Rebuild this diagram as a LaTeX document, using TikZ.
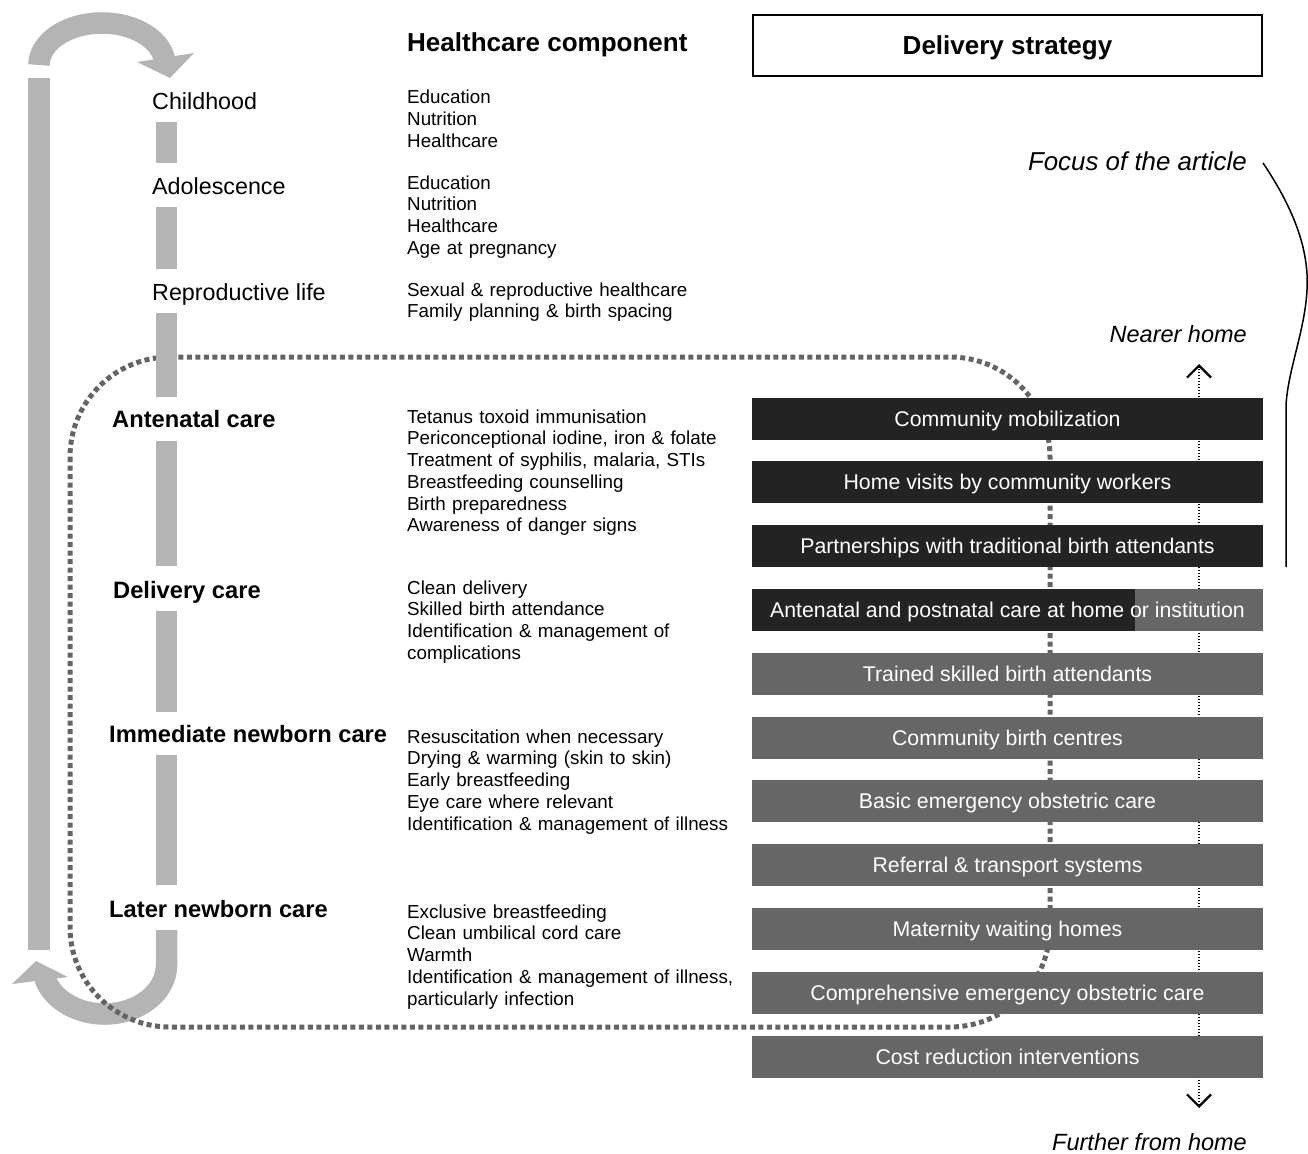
\documentclass[tikz,border=0pt]{standalone}
\usepackage{fontspec}
\setmainfont{Liberation Sans}
\usetikzlibrary{arrows.meta}
\definecolor{stagegray}{RGB}{180,180,180}
\definecolor{loopgray}{RGB}{100,100,100}
\definecolor{darkbar}{RGB}{35,35,35}
\definecolor{midbar}{RGB}{102,102,102}

\begin{document}
\begin{tikzpicture}[x=1pt,y=-1pt,
    stagebar/.style={draw=stagegray,line width=21.5pt},
    stagelabel/.style={anchor=base west,inner sep=0,font=\stagefontsize},
    stagehead/.style={anchor=base west,inner sep=0,font=\bfseries\fontsize{23.7}{27}\selectfont},
    itemlist/.style={anchor=base west,inner sep=0,text width=340pt,align=left,font=\listfontsize},
    note/.style={anchor=base east,inner sep=0,font=\itshape\notefontsize},
    bar/.style={minimum width=511pt,minimum height=42pt,inner sep=0,text=white,font=\barfontsize,text height=15pt,text depth=0pt},
    darkfill/.style={fill=darkbar},
    midfill/.style={fill=midbar},
    splitfill/.style={fill=midbar,path picture={\fill[darkbar] (path picture bounding box.north west) rectangle ([xshift=-128pt]path picture bounding box.south east);}}]
    \pgfmathsetmacro{\barleft}{752}
    \pgfmathsetmacro{\barright}{1263}
    \pgfmathsetmacro{\firstbar}{418.5}
    \pgfmathsetmacro{\barstep}{63.8}
    \pgfmathsetmacro{\listx}{407}
    \pgfmathsetmacro{\stagex}{166.5}
    \providecommand{\headfontsize}{\fontsize{26}{30}\selectfont}
    \providecommand{\stagefontsize}{\fontsize{23.3}{27}\selectfont}
    \providecommand{\listfontsize}{\fontsize{18.8}{21.75}\selectfont}
    \providecommand{\barfontsize}{\fontsize{21.3}{24}\selectfont}
    \providecommand{\notefontsize}{\fontsize{23.5}{27}\selectfont}
    \useasboundingbox (0,0) rectangle (1308,1153);
    \draw[stagebar] (39,65) arc[start angle=180,end angle=360,x radius=63,y radius=42];
    \fill[stagegray] (137,62) -- (194,53) -- (170,78) -- cycle;
    \draw[stagebar] (39,78) -- (39,950);
    \draw[stagebar] (\stagex,930) -- (\stagex,965) arc[start angle=0,end angle=165,x radius=62,y radius=49];
    \fill[stagegray] (12,984) -- (68,977) -- (36,961) -- cycle;
    \draw[loopgray,line width=5pt,dash pattern=on 5pt off 3.5pt,rounded corners=100pt] (70,357) rectangle (1050,1027);
    \coordinate (hometop) at (1199,364);
    \coordinate (homebottom) at (1199,1108);
    \draw[line width=1.6pt,dash pattern=on 1.5pt off 1.5pt,{Straight Barb[length=12pt,width=24pt,line width=2.2pt]}-{Straight Barb[length=12pt,width=24pt,line width=2.2pt]}] (homebottom) -- (hometop);
    \foreach \a/\b in {122/163,207/269,313/397,441/566,611/712,755/885}
        \draw[stagebar] (\stagex,\a) -- (\stagex,\b);
    \node[anchor=base west,inner sep=0,font=\bfseries\headfontsize] (component) at (\listx,52) {Healthcare component};
    \node[draw,line width=1.8pt,minimum width=509pt,minimum height=61pt,inner sep=0,font=\bfseries\headfontsize,text height=18.6pt,text depth=0pt] (strategy) at (1007.5,45.5) {Delivery strategy};
    \node[stagelabel] (childhood) at (152,109.5) {Childhood};
    \node[stagelabel] (adolescence) at (152,194.5) {Adolescence};
    \node[stagelabel] (reproductive) at (152,300.5) {Reproductive life};
    \node[stagehead] (antenatal) at (112,427.5) {Antenatal care};
    \node[stagehead] (delivery) at (113,598.5) {Delivery care};
    \node[stagehead] (immediate) at (109,742.5) {Immediate newborn care};
    \node[stagehead] (later) at (109,917.5) {Later newborn care};
    \node[itemlist] (childlist) at (\listx,104) {Education\\Nutrition\\Healthcare};
    \node[itemlist] (adollist) at (\listx,189) {Education\\Nutrition\\Healthcare\\Age at pregnancy};
    \node[itemlist] (reprolist) at (\listx,296) {Sexual \& reproductive healthcare\\Family planning \& birth spacing};
    \node[itemlist] (antelist) at (\listx,423) {Tetanus toxoid immunisation\\Periconceptional iodine, iron \& folate\\Treatment of syphilis, malaria, STIs\\Breastfeeding counselling\\Birth preparedness\\Awareness of danger signs};
    \node[itemlist] (deliverylist) at (\listx,594) {Clean delivery\\Skilled birth attendance\\Identification \& management of\\complications};
    \node[itemlist] (immediatelist) at (\listx,743) {Resuscitation when necessary\\Drying \& warming (skin to skin)\\Early breastfeeding\\Eye care where relevant\\Identification \& management of illness};
    \node[itemlist] (laterlist) at (\listx,918) {Exclusive breastfeeding\\Clean umbilical cord care\\Warmth\\Identification \& management of illness,\\particularly infection};
    \foreach \txt/\sty [count=\i] in {Community mobilization/darkfill,Home visits by community workers/darkfill,Partnerships with traditional birth attendants/darkfill,Antenatal and postnatal care at home or institution/splitfill,Trained skilled birth attendants/midfill,Community birth centres/midfill,Basic emergency obstetric care/midfill,Referral \& transport systems/midfill,Maternity waiting homes/midfill,Comprehensive emergency obstetric care/midfill,Cost reduction interventions/midfill}
        \node[bar,\sty] (bar\i) at ({(\barleft+\barright)/2},{\firstbar+(\i-1)*\barstep}) {\txt};
    \node[note,font=\itshape\fontsize{25.9}{29}\selectfont] (focus) at (1247,170) {Focus of the article};
    \node[note] (nearer) at (1247,342.5) {Nearer home};
    \node[note] (further) at (1247,1150) {Further from home};
    \coordinate (bracetop) at (1263,163);
    \coordinate (bracebottom) at (1286,567);
    \draw[line width=1.5pt] (bracetop) .. controls (1298,215) and (1309,255) .. (1307,290) .. controls (1305,330) and (1288,370) .. (1286,405) -- (bracebottom);
\end{tikzpicture}
\end{document}
